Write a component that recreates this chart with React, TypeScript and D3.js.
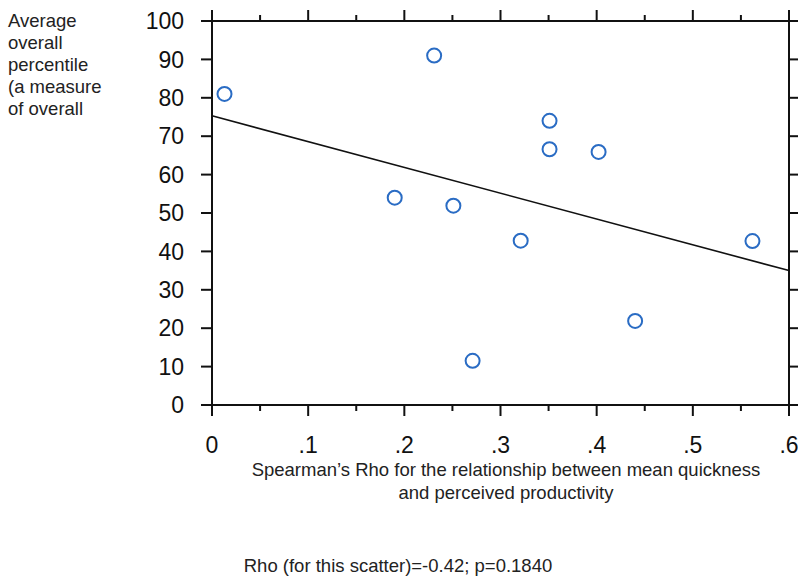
import React, { useEffect, useRef } from 'react';
import * as d3 from 'd3';

// values
const rhoValues = [0.013, 0.231, 0.19, 0.251, 0.271, 0.321, 0.351, 0.351, 0.402, 0.44, 0.562];
const percentileValues = [81.0, 91.0, 54.0, 51.9, 11.5, 42.8, 74.0, 66.6, 65.9, 21.9, 42.7];
const fitLine = [
  { x: 0, y: 75.3 },
  { x: 0.6, y: 35.0 },
];
const xMajorTicks = [0, 0.1, 0.2, 0.3, 0.4, 0.5, 0.6];
const xMinorTicks = [0.05, 0.15, 0.25, 0.35, 0.45, 0.55];
const xTickLabels = ['0', '.1', '.2', '.3', '.4', '.5', '.6'];
const yTicks = [0, 10, 20, 30, 40, 50, 60, 70, 80, 90, 100];
const yTitleLines = ['Average', 'overall', 'percentile', '(a measure', 'of overall'];
const xTitleLines = [
  'Spearman\u2019s Rho for the relationship between mean quickness',
  'and perceived productivity',
];
const footnote = 'Rho (for this scatter)=-0.42; p=0.1840';

const W = 798;
const H = 576;

const ScatterChart = () => {
  const svgRef = useRef<SVGSVGElement>(null);

  useEffect(() => {
    if (!svgRef.current) return;
    const svg = d3.select(svgRef.current);
    svg.selectAll('*').remove();

    const left = 212, right = 789, top = 21, bottom = 405;
    const x = d3.scaleLinear().domain([0, 0.6]).range([left, right]);
    const y = d3.scaleLinear().domain([0, 100]).range([bottom, top]);

    const tickFont = '"Liberation Sans", Arial, sans-serif';
    const g = svg.append('g');

    // frame
    g.append('rect')
      .attr('x', left).attr('y', top)
      .attr('width', right - left).attr('height', bottom - top)
      .attr('fill', 'none').attr('stroke', '#111').attr('stroke-width', 2);

    // x ticks, bottom and top
    const major = 11, minor = 6;
    g.selectAll('.xmaj-b').data(xMajorTicks).join('line')
      .attr('x1', d => x(d)).attr('x2', d => x(d))
      .attr('y1', bottom).attr('y2', bottom + major)
      .attr('stroke', '#111').attr('stroke-width', 2);
    g.selectAll('.xmin-b').data(xMinorTicks).join('line')
      .attr('x1', d => x(d)).attr('x2', d => x(d))
      .attr('y1', bottom).attr('y2', bottom + minor)
      .attr('stroke', '#111').attr('stroke-width', 2);
    g.selectAll('.xmaj-t').data(xMajorTicks).join('line')
      .attr('x1', d => x(d)).attr('x2', d => x(d))
      .attr('y1', top).attr('y2', top - major)
      .attr('stroke', '#111').attr('stroke-width', 2);
    g.selectAll('.xmin-t').data(xMinorTicks).join('line')
      .attr('x1', d => x(d)).attr('x2', d => x(d))
      .attr('y1', top).attr('y2', top - minor)
      .attr('stroke', '#111').attr('stroke-width', 2);

    // y ticks, left and right
    g.selectAll('.ytick-l').data(yTicks).join('line')
      .attr('x1', left - major).attr('x2', left)
      .attr('y1', d => y(d)).attr('y2', d => y(d))
      .attr('stroke', '#111').attr('stroke-width', 2);
    g.selectAll('.ytick-r').data(yTicks).join('line')
      .attr('x1', right).attr('x2', right + major)
      .attr('y1', d => y(d)).attr('y2', d => y(d))
      .attr('stroke', '#111').attr('stroke-width', 2);

    // tick labels
    g.selectAll('.xlab').data(xMajorTicks).join('text')
      .attr('x', d => x(d)).attr('y', 453)
      .attr('text-anchor', 'middle')
      .attr('font-family', tickFont).attr('font-size', 23).attr('fill', '#111')
      .text((d, i) => xTickLabels[i]);
    g.selectAll('.ylab').data(yTicks).join('text')
      .attr('x', 184).attr('y', d => y(d)).attr('dy', '0.36em')
      .attr('text-anchor', 'end')
      .attr('font-family', tickFont).attr('font-size', 23).attr('fill', '#111')
      .text(d => String(d));

    // fit line
    const line = d3.line<{ x: number; y: number }>().x(d => x(d.x)).y(d => y(d.y));
    g.append('path').datum(fitLine)
      .attr('d', line)
      .attr('fill', 'none').attr('stroke', '#111').attr('stroke-width', 1.6);

    // points
    g.selectAll('.pt').data(rhoValues).join('circle')
      .attr('cx', d => x(d)).attr('cy', (d, i) => y(percentileValues[i]))
      .attr('r', 7)
      .attr('fill', 'none').attr('stroke', '#2a6cc4').attr('stroke-width', 2);

    // titles
    const textFont = '"Liberation Sans", Arial, Helvetica, sans-serif';
    const textSize = 18.5;
    g.selectAll('.ytitle').data(yTitleLines).join('text')
      .attr('x', 8).attr('y', (d, i) => 27 + i * 22)
      .attr('font-family', textFont).attr('font-size', textSize).attr('fill', '#222')
      .text(d => d);
    g.selectAll('.xtitle').data(xTitleLines).join('text')
      .attr('x', 506).attr('y', (d, i) => 476 + i * 23)
      .attr('text-anchor', 'middle')
      .attr('font-family', textFont).attr('font-size', textSize).attr('fill', '#222')
      .text(d => d);
    g.append('text')
      .attr('x', 398).attr('y', 572)
      .attr('text-anchor', 'middle')
      .attr('font-family', textFont).attr('font-size', textSize).attr('fill', '#222')
      .text(footnote);
  }, []);

  return (
    <svg
      ref={svgRef}
      width={W}
      height={H}
      viewBox={`0 0 ${W} ${H}`}
      style={{ position: 'absolute', left: 0, top: 0, display: 'block', background: '#fff' }}
    />
  );
};

export default function App() {
  return <ScatterChart />;
}
